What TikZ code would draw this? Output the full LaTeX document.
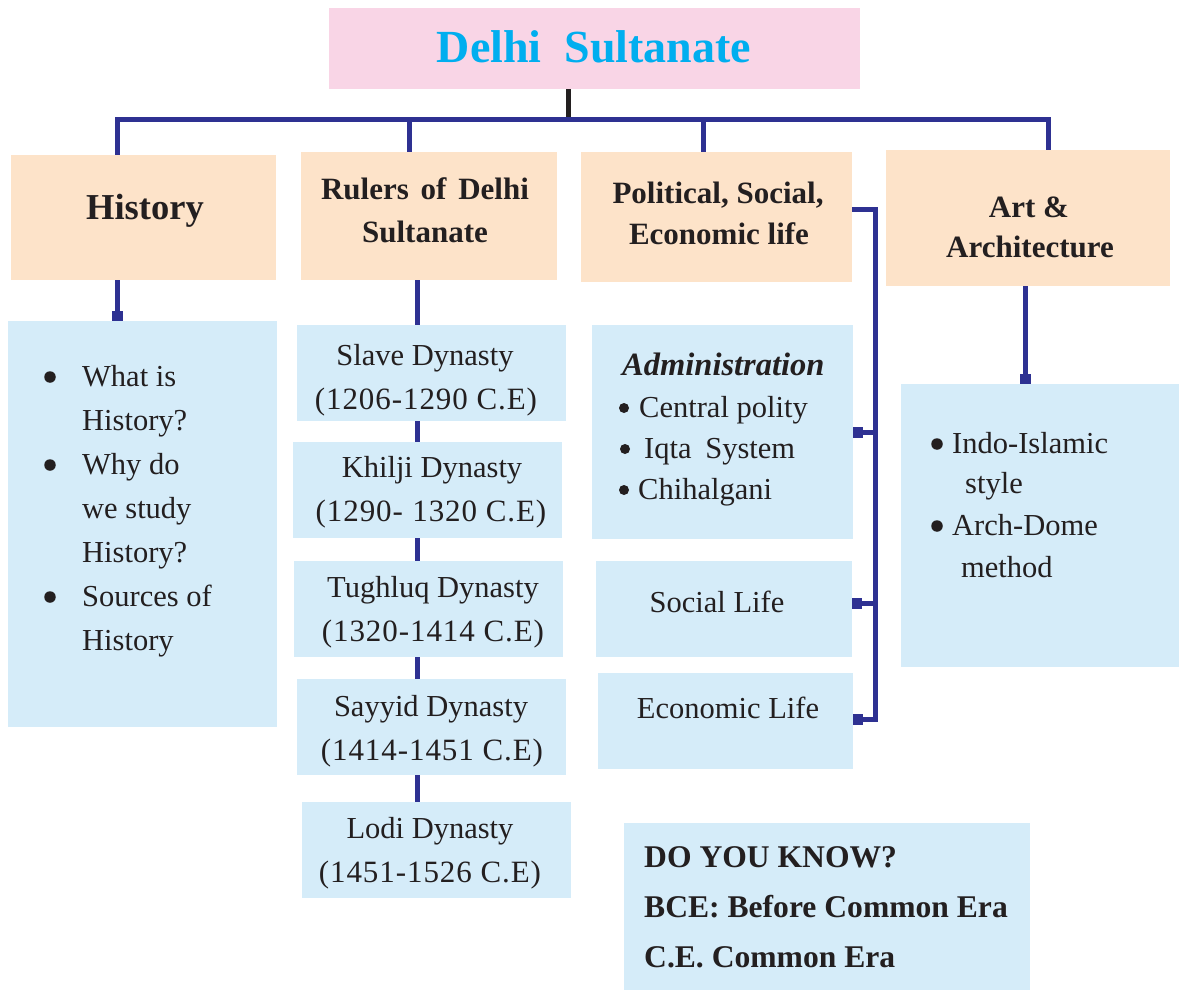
\documentclass[tikz,border=0pt]{standalone}
\usepackage{fontspec}
\setmainfont{Liberation Serif}
\usetikzlibrary{arrows.meta}
\definecolor{navy}{HTML}{2E3192}
\definecolor{ink}{HTML}{231F20}
\definecolor{pinkbg}{HTML}{F9D5E6}
\definecolor{peach}{HTML}{FDE3C9}
\definecolor{skyb}{HTML}{D5ECF9}
\definecolor{cyantxt}{HTML}{00AEEF}
\begin{document}
\begin{tikzpicture}[x=1pt,y=-1pt,
  box/.style={rectangle,inner sep=0pt,draw=none},
  titlebox/.style={box,fill=pinkbg},
  headbox/.style={box,fill=peach},
  infobox/.style={box,fill=skyb},
  body/.style={inner sep=0pt,text=ink,font=\fontsize{30.5}{36}\selectfont},
  date/.style={inner sep=0pt,text=ink,font=\fontsize{31}{36}\selectfont\addfontfeature{LetterSpace=3}},
  headtxt/.style={inner sep=0pt,text=ink,font=\bfseries\fontsize{31}{36}\selectfont},
  notetxt/.style={inner sep=0pt,text=ink,font=\bfseries\fontsize{31.6}{36}\selectfont},
  dot/.style={circle,fill=ink,inner sep=0pt,minimum size=11.5pt},
  smalldot/.style={dot,minimum size=10pt},
  link/.style={draw=navy,line width=5pt},
  stub/.style={draw=ink,line width=5pt},
  sqend/.style={-{Square[length=10pt,width=11pt]}},
]
\useasboundingbox (0,0) rectangle (1179,990);

% ---- boxes ----
\node[titlebox,minimum width=531pt,minimum height=81pt] (title) at (594.5,48.5) {};
\node[headbox,minimum width=265pt,minimum height=125pt] (hHist) at (143.5,217.5) {};
\node[headbox,minimum width=256pt,minimum height=128pt] (hRul) at (429,216) {};
\node[headbox,minimum width=271pt,minimum height=130pt] (hPol) at (716.5,217) {};
\node[headbox,minimum width=284pt,minimum height=136pt] (hArt) at (1028,218) {};

\node[infobox,minimum width=269pt,minimum height=406pt] (cHist) at (142.5,524) {};
\node[infobox,minimum width=269pt,minimum height=96pt] (slave) at (431.5,373) {};
\node[infobox,minimum width=269pt,minimum height=96pt] (khilji) at (427.5,490) {};
\node[infobox,minimum width=269pt,minimum height=96pt] (tughluq) at (428.5,609) {};
\node[infobox,minimum width=269pt,minimum height=96pt] (sayyid) at (431.5,727) {};
\node[infobox,minimum width=269pt,minimum height=96pt] (lodi) at (436.5,850) {};
\node[infobox,minimum width=261pt,minimum height=214pt] (admin) at (722.5,432) {};
\node[infobox,minimum width=256pt,minimum height=96pt] (social) at (724,609) {};
\node[infobox,minimum width=255pt,minimum height=96pt] (econ) at (725.5,721) {};
\node[infobox,minimum width=278pt,minimum height=283pt] (cArt) at (1040,525.5) {};
\node[infobox,minimum width=406pt,minimum height=167pt] (dyk) at (827,906.5) {};

% ---- title and headings ----
\node[inner sep=0pt,text=cyantxt,font=\bfseries\fontsize{46}{50}\selectfont,anchor=base] (ttl) at (594,63) {Delhi\hspace{0.5em}Sultanate};
\node[inner sep=0pt,text=ink,font=\bfseries\fontsize{36.5}{40}\selectfont,anchor=base] (tHist) at (145,219) {History};
\node[headtxt,anchor=base] (tRul1) at (425,199) {Rulers\hspace{0.38em}of\hspace{0.38em}Delhi};
\node[headtxt,anchor=base] (tRul2) at (425,242) {Sultanate};
\node[headtxt,anchor=base] (tPol1) at (718,203) {Political, Social,};
\node[headtxt,anchor=base] (tPol2) at (719,244) {Economic life};
\node[headtxt,anchor=base] (tArt1) at (1029,217) {Art \&};
\node[headtxt,anchor=base] (tArt2) at (1030,257) {Architecture};

% ---- history list ----
\node[dot] (hb1) at (50,377) {};
\node[dot] (hb2) at (50,465) {};
\node[dot] (hb3) at (50,597) {};
\node[body,anchor=base west] (hl1) at (82,386) {What is};
\node[body,anchor=base west] (hl2) at (82,430) {History?};
\node[body,anchor=base west] (hl3) at (82,474) {Why do};
\node[body,anchor=base west] (hl4) at (82,518) {we study};
\node[body,anchor=base west] (hl5) at (82,562) {History?};
\node[body,anchor=base west] (hl6) at (82,606) {Sources of};
\node[body,anchor=base west] (hl7) at (82,650) {History};

% ---- dynasties ----
\node[body,anchor=base] (s1) at (425,365) {Slave Dynasty};
\node[date,anchor=base] (s2) at (426,409) {(1206-1290 C.E)};
\node[body,anchor=base] (k1) at (432,477) {Khilji Dynasty};
\node[date,anchor=base] (k2) at (431,521) {(1290-\hspace{0.3em}1320 C.E)};
\node[body,anchor=base] (t1) at (433,597) {Tughluq Dynasty};
\node[date,anchor=base] (t2) at (433,641) {(1320-1414 C.E)};
\node[body,anchor=base] (y1) at (431,716) {Sayyid Dynasty};
\node[date,anchor=base] (y2) at (432,760) {(1414-1451 C.E)};
\node[body,anchor=base] (l1) at (430,838) {Lodi Dynasty};
\node[date,anchor=base] (l2) at (430,882) {(1451-1526 C.E)};

% ---- political / social / economic ----
\node[inner sep=0pt,text=ink,font=\bfseries\itshape\fontsize{32.5}{36}\selectfont,anchor=base west] (ad0) at (622,375) {Administration};
\node[smalldot] (ab1) at (624,408) {};
\node[smalldot] (ab2) at (625,449) {};
\node[smalldot] (ab3) at (624,490) {};
\node[body,anchor=base west] (ad1) at (639,417) {Central polity};
\node[body,anchor=base west] (ad2) at (644,458) {Iqta\hspace{0.45em}System};
\node[body,anchor=base west] (ad3) at (638,499) {Chihalgani};
\node[body,anchor=base] (so1) at (717,612) {Social Life};
\node[body,anchor=base] (ec1) at (728,718) {Economic Life};

% ---- art list ----
\node[dot] (rb1) at (937,444) {};
\node[dot] (rb2) at (937,526) {};
\node[body,anchor=base west] (ar1) at (952,453) {Indo-Islamic};
\node[body,anchor=base west] (ar2) at (965,493) {style};
\node[body,anchor=base west] (ar3) at (952,535) {Arch-Dome};
\node[body,anchor=base west] (ar4) at (961,577) {method};

% ---- note ----
\node[notetxt,anchor=base west] (dk1) at (644,867) {DO YOU KNOW?};
\node[notetxt,anchor=base west] (dk2) at (644,917) {BCE: Before Common Era};
\node[notetxt,anchor=base west] (dk3) at (644,967) {C.E. Common Era};

% ---- connectors ----
\coordinate (st) at (568,119);
\coordinate (barL) at (117,119);
\coordinate (barR) at (1048,119);
\coordinate (d2) at (409,119);
\coordinate (d3) at (703,119);
\draw[stub] (title.south -| st) -- (st);
\draw[link] (hHist.north -| barL) -- (barL) -- (barR) -- (hArt.north -| barR);
\draw[link] (d2) -- (hRul.north -| d2);
\draw[link] (d3) -- (hPol.north -| d3);

\coordinate (hx) at (117,0);
\draw[link,sqend] (hHist.south -| hx) -- (cHist.north -| hx);

\coordinate (ax) at (1025,0);
\draw[link,sqend] (hArt.south -| ax) -- (cArt.north -| ax);

\coordinate (rx) at (417,0);
\draw[link] (hRul.south -| rx) -- (slave.north -| rx);
\draw[link] (slave.south -| rx) -- (khilji.north -| rx);
\draw[link] (khilji.south -| rx) -- (tughluq.north -| rx);
\draw[link] (tughluq.south -| rx) -- (sayyid.north -| rx);
\draw[link] (sayyid.south -| rx) -- (lodi.north -| rx);

\coordinate (pj) at (875,209);
\coordinate (ya) at (875,432);
\coordinate (ys) at (875,603);
\coordinate (ye) at (875,719);
\draw[link,sqend] (pj -| hPol.east) -- (pj) -- (ye) -- (ye -| econ.east);
\draw[link,sqend] (ya) -- (ya -| admin.east);
\draw[link,sqend] (ys) -- (ys -| social.east);
\end{tikzpicture}
\end{document}
